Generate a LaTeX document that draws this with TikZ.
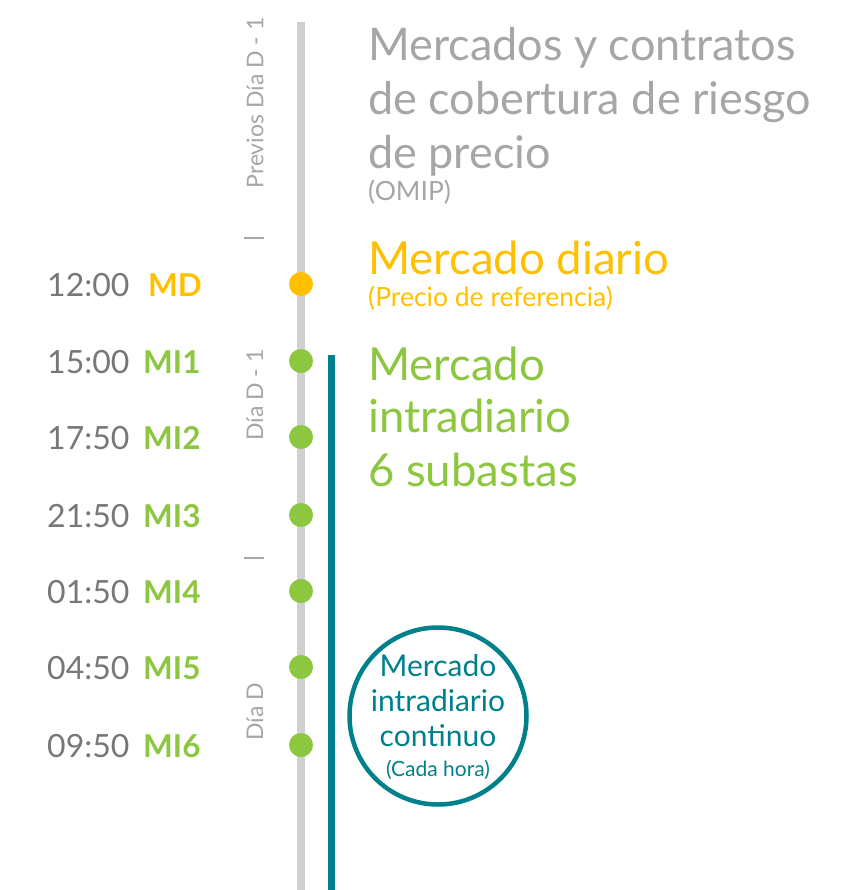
\documentclass[tikz,border=0pt]{standalone}
\usepackage{fontspec}
\setmainfont{Lato}
\definecolor{hgray}{HTML}{A6A6A6}
\definecolor{lgray}{HTML}{D0D0D0}
\definecolor{tgray}{HTML}{777777}
\definecolor{myyellow}{HTML}{FFC000}
\definecolor{mygreen}{HTML}{8DC63F}
\definecolor{myteal}{HTML}{00808A}
\tikzset{
  big/.style={anchor=base west, inner sep=0pt, font=\fontsize{45.5}{45.5}\selectfont},
  small/.style={anchor=base west, inner sep=0pt, font=\fontsize{26.5}{26.5}\selectfont},
  timelbl/.style={anchor=base west, inner sep=0pt, text=tgray, font=\fontsize{32}{32}\selectfont},
  codelbl/.style={anchor=base west, inner sep=0pt, font=\fontsize{31.5}{31.5}\selectfont\bfseries},
  daylbl/.style={rotate=90, inner sep=0pt, text=hgray, font=\fontsize{23}{23}\selectfont},
  dot/.style={circle, fill=#1, minimum size=24pt, inner sep=0pt},
  circtxt/.style={anchor=base, inner sep=0pt, text=myteal, font=\fontsize{30}{30}\selectfont},
}
\begin{document}
\begin{tikzpicture}[x=1pt,y=-1pt]
\useasboundingbox (0,0) rectangle (846,890);
% timeline
\coordinate (gtop) at (301,22);
\coordinate (gbot) at (301,890);
\draw[lgray, line width=8pt] (gtop) -- (gbot);
\coordinate (ttop) at (331,355);
\coordinate (tbot) at (331,890);
\draw[myteal, line width=7pt] (ttop) -- (tbot);
% period labels
\node[daylbl] (p1) at (255,103) {Previos Día D - 1};
\node[daylbl] (p2) at (255,395) {Día D - 1};
\node[daylbl] (p3) at (255,712) {Día D};
\coordinate (k1a) at (244,238); \coordinate (k1b) at (264,238);
\draw[hgray, line width=1.5pt] (k1a) -- (k1b);
\coordinate (k2a) at (244,558); \coordinate (k2b) at (264,558);
\draw[hgray, line width=1.5pt] (k2a) -- (k2b);
% dots
\node[dot=myyellow] (dmd) at (301,284) {};
\node[dot=mygreen] (d1) at (301,361) {};
\node[dot=mygreen] (d2) at (301,437) {};
\node[dot=mygreen] (d3) at (301,515) {};
\node[dot=mygreen] (d4) at (301,591) {};
\node[dot=mygreen] (d5) at (301,667) {};
\node[dot=mygreen] (d6) at (301,745) {};
% times
\node[timelbl] (t0) at (47,296) {12:00};
\node[timelbl] (t1) at (47,373) {15:00};
\node[timelbl] (t2) at (47,449) {17:50};
\node[timelbl] (t3) at (47,527) {21:50};
\node[timelbl] (t4) at (47,603) {01:50};
\node[timelbl] (t5) at (47,679) {04:50};
\node[timelbl] (t6) at (47,757) {09:50};
\node[codelbl, text=myyellow] (c0) at (148,296) {MD};
\node[codelbl, text=mygreen] (c1) at (143,373) {MI1};
\node[codelbl, text=mygreen] (c2) at (143,449) {MI2};
\node[codelbl, text=mygreen] (c3) at (143,527) {MI3};
\node[codelbl, text=mygreen] (c4) at (143,603) {MI4};
\node[codelbl, text=mygreen] (c5) at (143,679) {MI5};
\node[codelbl, text=mygreen] (c6) at (143,757) {MI6};
% right texts
\node[big, text=hgray, font=\fontsize{45}{45}\selectfont] (h1) at (368,61) {Mercados y contratos};
\node[big, text=hgray, font=\fontsize{45}{45}\selectfont] (h2) at (368,115) {de cobertura de riesgo};
\node[big, text=hgray, font=\fontsize{45}{45}\selectfont] (h3) at (368,169) {de precio};
\node[small, text=hgray] (h4) at (368,201) {(OMIP)};
\node[big, text=myyellow] (m1) at (368,275) {Mercado diario};
\node[small, text=myyellow] (m2) at (368,306) {(Precio de referencia)};
\node[big, text=mygreen] (i1) at (368,380) {Mercado};
\node[big, text=mygreen] (i2) at (368,432) {intradiario};
\node[big, text=mygreen] (i3) at (368,486) {6 subastas};
% continuous market circle
\node[circle, draw=myteal, line width=4.5pt, minimum size=177pt, inner sep=0pt] (circ) at (438,716) {};
\node[circtxt] (ct1) at (438,676) {Mercado};
\node[circtxt] (ct2) at (438,711) {intradiario};
\node[circtxt] (ct3) at (438,746) {continuo};
\node[circtxt, font=\fontsize{21}{21}\selectfont] (ct4) at (438,776) {(Cada hora)};
\end{tikzpicture}
\end{document}
